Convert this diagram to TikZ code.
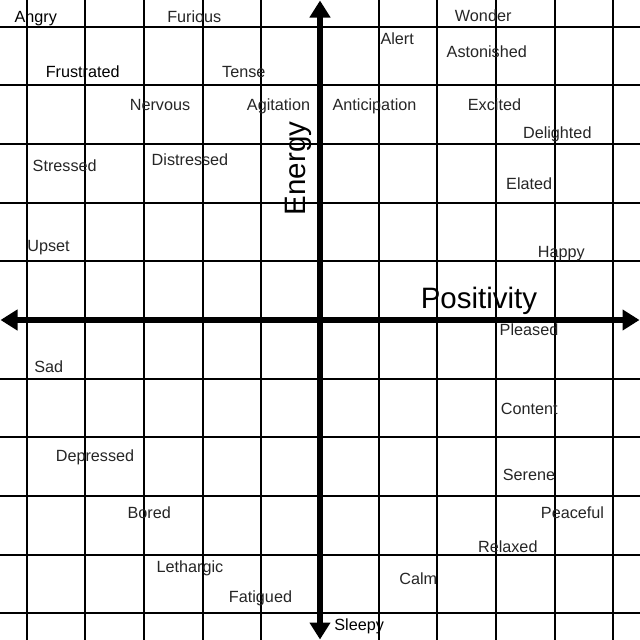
\documentclass[tikz,border=0pt]{standalone}
\usepackage{fontspec}
\setmainfont{Liberation Sans}
\usetikzlibrary{arrows.meta}
\definecolor{labelgray}{HTML}{262626}
\begin{document}
\begin{tikzpicture}[x=1pt,y=-1pt,
  gridline/.style={line width=1.8pt,black},
  axisline/.style={line width=6pt,black,{Triangle[length=17pt,width=20pt]}-{Triangle[length=17pt,width=20pt]}},
  lbl/.style={inner sep=0pt,anchor=base,font=\fontsize{16.2}{19}\selectfont,text=labelgray},
  lblk/.style={lbl,text=black},
  axislbl/.style={inner sep=0pt,anchor=base,font=\fontsize{29.5}{34}\selectfont,text=black}]
\fill[white] (0,0) rectangle (640,640);
\useasboundingbox (0,0) rectangle (640,640);
% grid
\foreach \k in {1,...,5}{
  \draw[gridline] ({320-58.66*\k},0) -- ({320-58.66*\k},640);
  \draw[gridline] ({320+58.66*\k},0) -- ({320+58.66*\k},640);
  \draw[gridline] (0,{320-58.66*\k}) -- (640,{320-58.66*\k});
  \draw[gridline] (0,{320+58.66*\k}) -- (640,{320+58.66*\k});
}
% axes
\coordinate (L) at (0.5,320);
\coordinate (R) at (639.5,320);
\coordinate (T) at (320,0.5);
\coordinate (B) at (320,639.5);
\draw[axisline] (L) -- (R);
\draw[axisline] (B) -- (T);
% axis labels
\node[axislbl] (energy) at (305,168.5) [rotate=90] {Energy};
\node[axislbl] (positivity) at (479,308.5) {Positivity};
% emotion labels
\node[lblk] (angry) at (35.8,22) {Angry};
\node[lbl] (furious) at (194.3,22) {Furious};
\node[lbl] (wonder) at (483.2,21.7) {Wonder};
\node[lbl] (alert) at (397.2,44) {Alert};
\node[lbl] (astonished) at (486.8,57.7) {Astonished};
\node[lblk] (frustrated) at (82.7,77.3) {Frustrated};
\node[lbl] (tense) at (243.8,77.3) {Tense};
\node[lbl] (nervous) at (160,110) {Nervous};
\node[lbl] (agitation) at (278.5,110) {Agitation};
\node[lbl] (anticipation) at (374.5,110) {Anticipation};
\node[lbl] (excited) at (494.5,110) {Excited};
\node[lbl] (delighted) at (557.3,138.3) {Delighted};
\node[lbl] (stressed) at (64.7,171) {Stressed};
\node[lbl] (distressed) at (190,165) {Distressed};
\node[lbl] (elated) at (529.2,189.3) {Elated};
\node[lbl] (upset) at (48.5,251.7) {Upset};
\node[lbl] (happy) at (561.3,257.3) {Happy};
\node[lbl] (pleased) at (529,335.7) {Pleased};
\node[lbl] (sad) at (48.7,372.7) {Sad};
\node[lbl] (content) at (529.2,414) {Content};
\node[lbl] (depressed) at (95,461.7) {Depressed};
\node[lbl] (serene) at (529,480.7) {Serene};
\node[lbl] (bored) at (149.2,518.3) {Bored};
\node[lbl] (peaceful) at (572.5,518.3) {Peaceful};
\node[lbl] (relaxed) at (507.8,552.7) {Relaxed};
\node[lbl] (lethargic) at (190,572.3) {Lethargic};
\node[lbl] (calm) at (418.3,584.3) {Calm};
\node[lbl] (fatigued) at (260.5,602.3) {Fatigued};
\node[lblk] (sleepy) at (359.2,630.7) {Sleepy};
\end{tikzpicture}
\end{document}
